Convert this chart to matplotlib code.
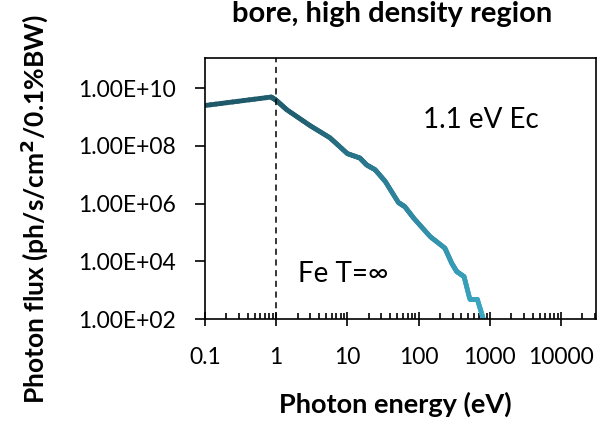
import numpy as np
import matplotlib
matplotlib.use("Agg")
import matplotlib.pyplot as plt
from matplotlib.collections import LineCollection
from matplotlib.ticker import FixedLocator, LogLocator, NullFormatter, FixedFormatter

plt.rcParams['font.family'] = ['Lato', 'DejaVu Sans']

# Data
energy_eV = [0.1, 0.85, 1.0, 1.4, 3.0, 5.7, 10, 15, 18.6, 24.5, 34, 52, 64, 85,
             146, 234, 292, 343, 435, 525, 668, 813]
flux = [2.5e9, 4.9e9, 3.8e9, 1.8e9, 5.0e8, 1.9e8, 5.4e7, 3.8e7, 2.2e7, 1.5e7,
        5.9e6, 1.1e6, 7.9e5, 3.2e5, 7.2e4, 2.9e4, 8.7e3, 4.5e3, 3.0e3, 4.9e2,
        4.9e2, 1.0e2]
x_ticks = [0.1, 1, 10, 100, 1000, 10000]
x_tick_labels = ["0.1", "1", "10", "100", "1000", "10000"]
y_ticks = [1e2, 1e4, 1e6, 1e8, 1e10]
y_tick_labels = ["1.00E+02", "1.00E+04", "1.00E+06", "1.00E+08", "1.00E+10"]
title = "bore, high density region"
xlabel = "Photon energy (eV)"
ylabel = "Photon flux (ph/s/cm$^{\\mathbf{2}}$/0.1%BW)"
annot1 = "1.1 eV Ec"
annot2 = "Fe T=\u221e"
vline_x = 1.0

W, H = 611, 421
fig = plt.figure(figsize=(W / 100, H / 100), dpi=100)
ax = fig.add_axes([205 / W, 1 - 319.3 / H, 391 / W, 261.3 / H])
ax.set_xscale('log')
ax.set_yscale('log')
ax.set_xlim(0.1, 31000)
ax.set_ylim(1e2, 1.1e11)

# gradient line
lx = np.log10(energy_eV)
ly = np.log10(flux)
seg_x, seg_y = [], []
for i in range(len(lx) - 1):
    t = np.linspace(0, 1, 12, endpoint=False)
    seg_x.extend(lx[i] + (lx[i+1]-lx[i]) * t)
    seg_y.extend(ly[i] + (ly[i+1]-ly[i]) * t)
seg_x.append(lx[-1]); seg_y.append(ly[-1])
px = 10 ** np.array(seg_x)
py = 10 ** np.array(seg_y)
pts = np.array([px, py]).T.reshape(-1, 1, 2)
segs = np.concatenate([pts[:-1], pts[1:]], axis=1)
cmap = matplotlib.colors.LinearSegmentedColormap.from_list(
    "teal", ["#1e5868", "#215f70", "#2d8199", "#3aa6c2"])
tpos = (np.array(seg_x[:-1]) - seg_x[0]) / (seg_x[-1] - seg_x[0])
lc = LineCollection(segs, colors=cmap(tpos), linewidths=3.5, capstyle='round',
                    joinstyle='round', clip_on=True)
ax.add_collection(lc)

ax.axvline(vline_x, color='black', linestyle=(0, (4, 3)), linewidth=1.1)

# ticks
ax.xaxis.set_major_locator(FixedLocator(x_ticks))
ax.xaxis.set_major_formatter(FixedFormatter(x_tick_labels))
ax.xaxis.set_minor_locator(LogLocator(base=10, subs=np.arange(2, 10)))
ax.xaxis.set_minor_formatter(NullFormatter())
ax.tick_params(axis='x', which='major', direction='inout', length=10, width=1.2,
               pad=15, labelsize=16.5)
ax.tick_params(axis='x', which='minor', direction='in', length=4, width=1.2)
ax.yaxis.set_major_locator(FixedLocator(y_ticks))
ax.yaxis.set_major_formatter(FixedFormatter(y_tick_labels))
ax.yaxis.set_minor_locator(FixedLocator([]))
ax.tick_params(axis='y', which='major', direction='out', length=7, width=1.2,
               pad=14, labelsize=16.5)
for s in ax.spines.values():
    s.set_linewidth(1.2)

ax.text((423 - 205) / 391, (319.3 - 128.3) / 261.3, annot1, transform=ax.transAxes,
        fontsize=20, va='baseline', ha='left')
ax.text((298 - 205) / 391, (319.3 - 281.7) / 261.3, annot2, transform=ax.transAxes,
        fontsize=20, va='baseline', ha='left')

fig.text(392.5 / W, 1 - 22 / H, title, fontsize=21, fontweight='bold', ha='center', va='baseline')
fig.text(395 / W, 1 - 413 / H, xlabel, fontsize=19.5, fontweight='bold', ha='center', va='baseline')
fig.text(34 / W, 1 - 209 / H, ylabel, fontsize=19, fontweight='bold', ha='center', va='center',
         rotation=90)

fig.savefig("out.png", dpi=100)
